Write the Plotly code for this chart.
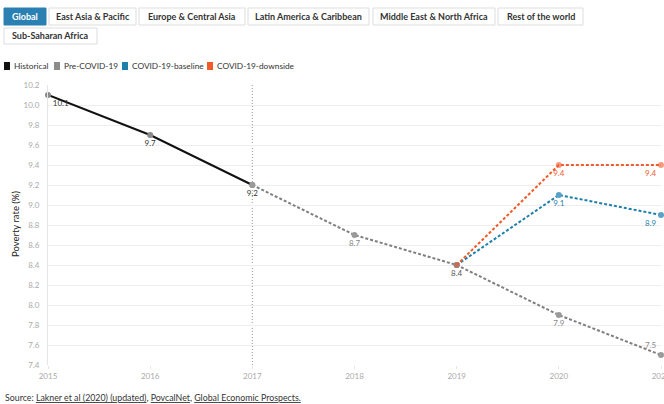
import plotly.graph_objects as go

# ---------------- data ----------------
years_hist = [2015, 2016, 2017]
vals_hist = [10.1, 9.7, 9.2]

years_pre = [2017, 2018, 2019, 2020, 2021]
vals_pre = [9.2, 8.7, 8.4, 7.9, 7.5]

years_base = [2019, 2020, 2021]
vals_base = [8.4, 9.1, 8.9]

years_down = [2019, 2020, 2021]
vals_down = [8.4, 9.4, 9.4]

regions = ["Global", "East Asia & Pacific", "Europe & Central Asia",
           "Latin America & Caribbean", "Middle East & North Africa",
           "Rest of the world", "Sub-Saharan Africa"]
series_names = ["Historical", "Pre-COVID-19", "COVID-19-baseline", "COVID-19-downside"]
y_ticks = [7.4, 7.6, 7.8, 8.0, 8.2, 8.4, 8.6, 8.8, 9.0, 9.2, 9.4, 9.6, 9.8, 10.0, 10.2]
x_ticks = [2015, 2016, 2017, 2018, 2019, 2020, 2021]

# ---------------- layout helpers ----------------
W, H = 664, 404
ML, MR, MT, MB = 48, 3, 85, 39
PW, PH = W - ML - MR, H - MT - MB

def px(x):
    return (x - ML) / PW

def py(y):
    return (H - MB - y) / PH

FONT = "Lato"
BLACK = "#111111"
GRAY = "#7f7f7f"
BLUE = "#1f7fab"
ORANGE = "#f15a2b"

fig = go.Figure()

def fmt(vals):
    return [f"{v:.1f}" for v in vals]

# Historical
fig.add_trace(go.Scatter(
    x=years_hist, y=vals_hist, mode="lines+markers+text", name=series_names[0],
    line=dict(color=BLACK, width=2),
    marker=dict(color="#8a8a8a", size=6),
    text=fmt(vals_hist), textposition=["bottom right", "bottom center", "bottom center"],
    textfont=dict(family=FONT, size=8, color="#333333"),
    cliponaxis=False, showlegend=False, hoverinfo="x+y"))

# Pre-COVID-19
pre_text = fmt(vals_pre)
pre_text[0] = ""
fig.add_trace(go.Scatter(
    x=years_pre, y=vals_pre, mode="lines+markers+text", name=series_names[1],
    line=dict(color=GRAY, width=2, dash="3px,2px"),
    marker=dict(color="#9a9a9a", size=6),
    text=pre_text,
    textposition=["bottom center", "bottom center", "bottom center", "bottom center", "top left"],
    textfont=dict(family=FONT, size=8, color=["#888888", "#888888", "#555555", "#888888", "#888888"]),
    cliponaxis=False, showlegend=False, hoverinfo="x+y"))

# baseline
base_text = fmt(vals_base)
base_text[0] = ""
fig.add_trace(go.Scatter(
    x=years_base, y=vals_base, mode="lines+markers+text", name=series_names[2],
    line=dict(color=BLUE, width=2, dash="3px,2px"),
    marker=dict(color="#5aa3c6", size=6),
    text=base_text, textposition=["bottom center", "bottom center", "bottom left"],
    textfont=dict(family=FONT, size=8, color=BLUE),
    cliponaxis=False, showlegend=False, hoverinfo="x+y"))

# downside
down_text = fmt(vals_down)
down_text[0] = ""
fig.add_trace(go.Scatter(
    x=years_down, y=vals_down, mode="lines+markers+text", name=series_names[3],
    line=dict(color=ORANGE, width=2, dash="3px,2px"),
    marker=dict(color="rgba(241,90,43,0.6)", size=6),
    text=down_text, textposition=["bottom center", "bottom center", "bottom left"],
    textfont=dict(family=FONT, size=8, color=ORANGE),
    cliponaxis=False, showlegend=False, hoverinfo="x+y"))

shapes = []
annotations = []

# vertical dotted line at 2017
shapes.append(dict(type="line", xref="x", yref="paper", x0=years_hist[-1], x1=years_hist[-1],
                   y0=0, y1=1, line=dict(color="#999999", width=1, dash="1px,2px"), layer="below"))

# region buttons (row layout)
button_boxes = [(4, 46, 8, 25), (49, 136, 8, 25), (139, 245, 8, 25), (248, 369, 8, 25),
                (373, 495, 8, 25), (498, 583, 8, 25), (4, 97, 28, 44)]
for i, (label, (x0, x1, y0, y1)) in enumerate(zip(regions, button_boxes)):
    active = i == 0
    shapes.append(dict(type="rect", xref="paper", yref="paper",
                       x0=px(x0), x1=px(x1), y0=py(y1), y1=py(y0),
                       fillcolor="#2b80b3" if active else "#ffffff",
                       line=dict(color="#2b80b3" if active else "#dddddd", width=1)))
    annotations.append(dict(xref="paper", yref="paper", x=px((x0 + x1) / 2), y=py((y0 + y1) / 2),
                            text=f"<b>{label}</b>", showarrow=False, xanchor="center", yanchor="middle",
                            font=dict(family=FONT, size=9, color="#ffffff" if active else "#333333")))

# legend (custom squares)
legend_colors = [BLACK, "#8c8c8c", BLUE, ORANGE]
legend_x = [4, 54, 122, 207]
for name, col, lx in zip(series_names, legend_colors, legend_x):
    shapes.append(dict(type="rect", xref="paper", yref="paper",
                       x0=px(lx), x1=px(lx + 6), y0=py(70), y1=py(62),
                       fillcolor=col, line=dict(width=0)))
    annotations.append(dict(xref="paper", yref="paper", x=px(lx + 8), y=py(66),
                            text=name, showarrow=False, xanchor="left", yanchor="middle",
                            font=dict(family=FONT, size=8.3, color="#333333")))

# y axis title
annotations.append(dict(xref="paper", yref="paper", x=px(15), y=py(224), text="Poverty rate (%)",
                        textangle=-90, showarrow=False, xanchor="center", yanchor="middle",
                        font=dict(family=FONT, size=9.5, color="#222222")))

# source
u = '<span style="text-decoration:underline">{}</span>'
source = ("Source: " + u.format("Lakner et al (2020) (updated)") + ", " + u.format("PovcalNet")
          + ", " + u.format("Global Economic Prospects."))
annotations.append(dict(xref="paper", yref="paper", x=px(3), y=py(397), text=source,
                        showarrow=False, xanchor="left", yanchor="middle",
                        font=dict(family=FONT, size=8.8, color="#333333")))

fig.update_layout(
    width=W, height=H,
    margin=dict(l=ML, r=MR, t=MT, b=MB, pad=0, autoexpand=False),
    paper_bgcolor="white", plot_bgcolor="white",
    showlegend=False,
    shapes=shapes, annotations=annotations,
    xaxis=dict(range=[x_ticks[0], x_ticks[-1]], tickvals=x_ticks, ticktext=[str(t) for t in x_ticks],
               showgrid=False, zeroline=False, showline=False, automargin=False,
               ticks="outside", ticklen=3, tickcolor="#e6e6e6", ticklabeloverflow="allow",
               tickfont=dict(family=FONT, size=8, color="#aaaaaa")),
    yaxis=dict(range=[y_ticks[0], y_ticks[-1]], tickvals=y_ticks, ticktext=[f"{t:.1f}" for t in y_ticks],
               showgrid=True, gridcolor="#eeeeee", gridwidth=1, zeroline=False, automargin=False,
               showline=True, linecolor="#e6e6e6", linewidth=1, ticks="", ticklabelstandoff=6,
               tickfont=dict(family=FONT, size=8, color="#aaaaaa")),
)

fig.write_html("out.html")
